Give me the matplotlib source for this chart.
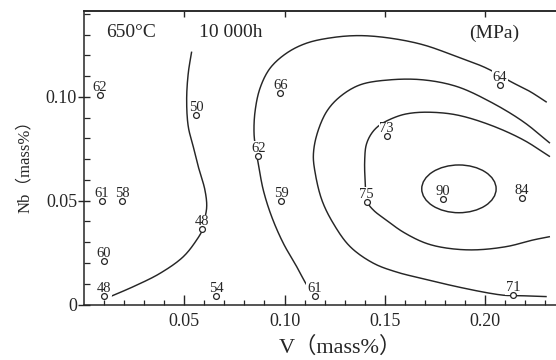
import numpy as np
import matplotlib
matplotlib.use("Agg")
import matplotlib.pyplot as plt
from matplotlib.patches import Ellipse

plt.rcParams["font.family"] = ["Liberation Serif", "Noto Sans CJK JP", "DejaVu Sans"]
INK = "#262626"

# Creep rupture strength (MPa) at 650 °C / 10 000 h for each V–Nb composition
v_pct = [0.008, 0.056, 0.098, 0.087, 0.151, 0.2075, 0.009, 0.019, 0.0985,
         0.141, 0.179, 0.2185, 0.059, 0.010, 0.010, 0.066, 0.115, 0.214]
nb_pct = [0.101, 0.0913, 0.1018, 0.0717, 0.081, 0.1056, 0.050, 0.050, 0.050,
          0.0495, 0.051, 0.0512, 0.0362, 0.021, 0.0042, 0.0042, 0.0041, 0.0046]
strength = [62, 50, 66, 62, 73, 64, 61, 58, 59, 75, 90, 84, 48, 60, 48, 54, 61, 71]

# Iso-strength lines (V mass%, Nb mass%)
iso_a_v = [0.0537, 0.0520, 0.0512, 0.0520, 0.0545, 0.0570, 0.0603, 0.0612,
           0.0599, 0.0592, 0.0562, 0.0495, 0.0379, 0.0246, 0.0138]
iso_a_nb = [0.1218, 0.1114, 0.0986, 0.0857, 0.0760, 0.0664, 0.0552, 0.0471,
            0.0398, 0.0362, 0.0311, 0.0230, 0.0150, 0.0086, 0.0041]

iso_b_v = [0.1136, 0.1111, 0.1061, 0.0994, 0.0936, 0.0894, 0.0869, 0.0855,
           0.0848, 0.0853, 0.0878, 0.0928, 0.1011, 0.1111, 0.1242, 0.1376,
           0.1526, 0.1691, 0.1859, 0.2008, 0.2133, 0.2224, 0.2308]
iso_b_nb = [0.0062, 0.0094, 0.0182, 0.0295, 0.0423, 0.0552, 0.0680, 0.0760,
            0.0825, 0.0929, 0.1042, 0.1138, 0.1211, 0.1259, 0.1286, 0.1295,
            0.1283, 0.1251, 0.1194, 0.1138, 0.1071, 0.1026, 0.0974]

iso_c_v = [0.2324, 0.2190, 0.2025, 0.1859, 0.1691, 0.1526, 0.1377, 0.1277,
           0.1210, 0.1161, 0.1144, 0.1152, 0.1186, 0.1243, 0.1327, 0.1443,
           0.1560, 0.1692, 0.1859, 0.2025, 0.2100, 0.2141, 0.2190, 0.2308]
iso_c_nb = [0.0777, 0.0881, 0.0977, 0.1050, 0.1082, 0.1082, 0.1058, 0.1001,
            0.0929, 0.0817, 0.0720, 0.0639, 0.0504, 0.0391, 0.0279, 0.0199,
            0.0156, 0.0124, 0.0086, 0.0054, 0.0044, 0.0043, 0.0042, 0.0038]

iso_d_v = [0.2324, 0.2191, 0.2025, 0.1859, 0.1726, 0.1626, 0.1560, 0.1476,
           0.1435, 0.1408, 0.1400, 0.1402, 0.1413, 0.1443, 0.1510,
           0.1590, 0.1700, 0.1800, 0.1942, 0.2108, 0.2241, 0.2324]
iso_d_nb = [0.0712, 0.0793, 0.0865, 0.0913, 0.0926, 0.0921, 0.0905, 0.0865,
            0.0825, 0.0770, 0.0696, 0.0600, 0.0495, 0.0455, 0.0405,
            0.0350, 0.0297, 0.0273, 0.0263, 0.0279, 0.0311, 0.0327]

# Closed 90 MPa line around the maximum
peak_center = (0.187, 0.0557)
peak_width = 0.0371
peak_height = 0.0230

x_major = [0.05, 0.10, 0.15, 0.20]
x_major_labels = ["0.05", "0.10", "0.15", "0.20"]
y_major = [0.0, 0.05, 0.10]
y_major_labels = ["0", "0.05", "0.10"]

# rough pixel-per-unit ratio of the two axes, so the spline is smoothed in
# a space where both directions are on the same footing
X_SCALE, Y_SCALE = 2005.0, 2075.0


def centripetal_spline(xs, ys, steps=16, alpha=0.5):
    pts = np.column_stack([np.asarray(xs) * X_SCALE, np.asarray(ys) * Y_SCALE])
    ext = np.vstack([2 * pts[0] - pts[1], pts, 2 * pts[-1] - pts[-2]])
    out = []
    for i in range(1, len(ext) - 2):
        p0, p1, p2, p3 = ext[i - 1], ext[i], ext[i + 1], ext[i + 2]
        t0 = 0.0
        t1 = t0 + np.linalg.norm(p1 - p0) ** alpha
        t2 = t1 + np.linalg.norm(p2 - p1) ** alpha
        t3 = t2 + np.linalg.norm(p3 - p2) ** alpha
        t = np.linspace(t1, t2, steps, endpoint=False)[:, None]
        a1 = (t1 - t) / (t1 - t0) * p0 + (t - t0) / (t1 - t0) * p1
        a2 = (t2 - t) / (t2 - t1) * p1 + (t - t1) / (t2 - t1) * p2
        a3 = (t3 - t) / (t3 - t2) * p2 + (t - t2) / (t3 - t2) * p3
        b1 = (t2 - t) / (t2 - t0) * a1 + (t - t0) / (t2 - t0) * a2
        b2 = (t3 - t) / (t3 - t1) * a2 + (t - t1) / (t3 - t1) * a3
        out.append((t2 - t) / (t2 - t1) * b1 + (t - t1) / (t2 - t1) * b2)
    out.append(pts[-1][None, :])
    out = np.vstack(out)
    return out[:, 0] / X_SCALE, out[:, 1] / Y_SCALE


fig = plt.figure(figsize=(5.56, 3.60), dpi=100)
ax = fig.add_axes([84 / 556, (360 - 304.5) / 360, (556 - 84) / 556, 293.8 / 360])
ax.set_xlim(0, (556 - 84) / 2005)
ax.set_ylim(0, 0.1415)

for xs, ys in [(iso_a_v, iso_a_nb), (iso_b_v, iso_b_nb),
               (iso_c_v, iso_c_nb), (iso_d_v, iso_d_nb)]:
    sx, sy = centripetal_spline(xs, ys)
    ax.plot(sx, sy, color=INK, lw=1.05, zorder=2, solid_capstyle="butt")

ax.add_patch(Ellipse(peak_center, peak_width, peak_height, fill=False,
                     edgecolor=INK, lw=1.05, zorder=2))

ax.plot(v_pct, nb_pct, linestyle="none", marker="o", markersize=4.2,
        markerfacecolor="white", markeredgecolor=INK, markeredgewidth=0.9,
        zorder=6)

for x, y, s in zip(v_pct, nb_pct, strength):
    ax.annotate(str(s), (x, y), xytext=(0, 2.8), textcoords="offset points",
                ha="center", va="baseline", fontsize=10.5, color=INK, zorder=5,
                bbox=dict(boxstyle="square,pad=0.06", fc="white", ec="none"))

ax.text(0.0996, 0.9275, "650°C", transform=ax.transAxes, ha="center",
        va="center", fontsize=14, color=INK)
ax.text(0.311, 0.9275, "10 000h", transform=ax.transAxes, ha="center",
        va="center", fontsize=14, color=INK)
ax.text(0.869, 0.924, "(MPa)", transform=ax.transAxes, ha="center",
        va="center", fontsize=14, color=INK)

ax.set_xticks(x_major, x_major_labels)
ax.set_xticks(np.arange(0.01, 0.2351, 0.01), minor=True)
ax.set_yticks(y_major, y_major_labels)
ax.set_yticks(np.arange(0.01, 0.1415, 0.01), minor=True)

ax.tick_params(axis="x", which="major", direction="in", length=7, width=1.0,
               labelsize=13, pad=6, colors=INK)
ax.tick_params(axis="x", which="minor", direction="in", length=3.5, width=0.9,
               colors=INK)
ax.tick_params(axis="y", which="major", direction="inout", length=8, width=1.0,
               labelsize=13, pad=1, colors=INK)
ax.tick_params(axis="y", which="minor", direction="in", length=4, width=0.9,
               colors=INK)

top = ax.secondary_xaxis("top")
top.set_xticks(x_major)
top.tick_params(direction="in", length=4, width=1.0, labeltop=False, colors=INK)
top.xaxis.set_minor_locator(matplotlib.ticker.NullLocator())
top.spines["top"].set_linewidth(1.1)
top.spines["top"].set_color(INK)

ax.spines["right"].set_visible(False)
for side in ("left", "bottom", "top"):
    ax.spines[side].set_linewidth(1.1)
    ax.spines[side].set_color(INK)

ax.set_xlabel("V（mass%）", fontsize=16, color=INK)
ax.xaxis.set_label_coords((340 - 84) / 472, -0.108)
ax.set_ylabel("Nb（mass%）", fontsize=12, color=INK)
ax.yaxis.set_label_coords(-0.108, 0.485)

fig.savefig("out.png", dpi=100)
